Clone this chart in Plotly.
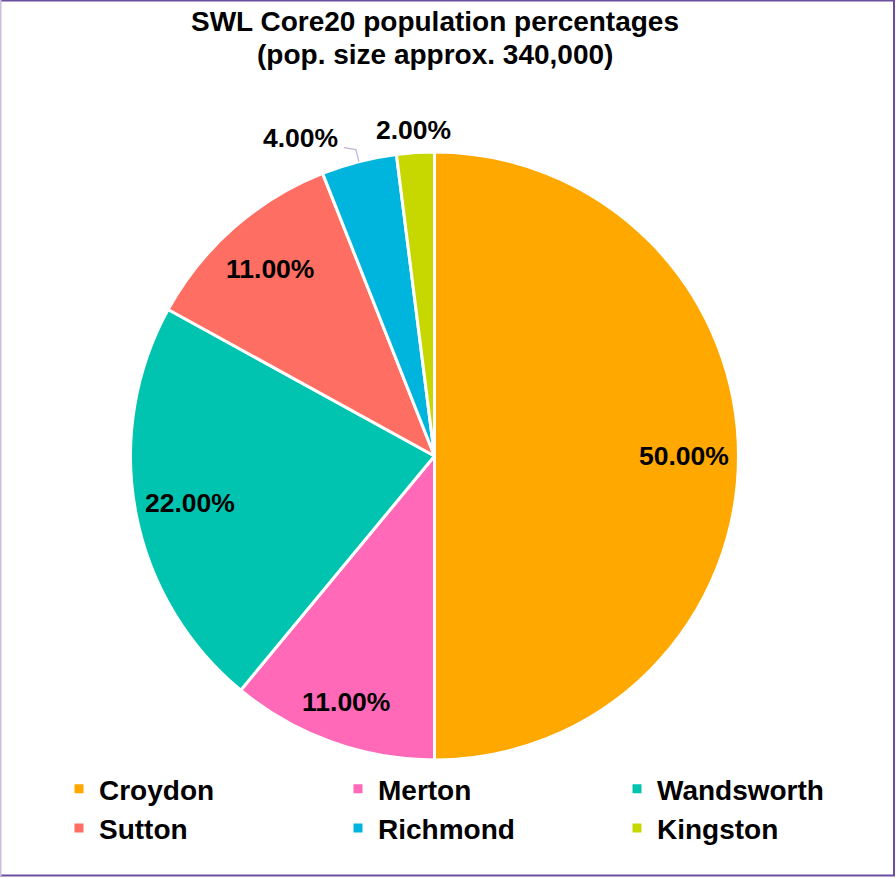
import math
import plotly.graph_objects as go

# South West London Core20 population share by borough
boroughs = ["Croydon", "Merton", "Wandsworth", "Sutton", "Richmond", "Kingston"]
shares = [50, 11, 22, 11, 4, 2]
colors = ["#FFA800", "#FF69B8", "#00C4B0", "#FF6E62", "#00B5DD", "#C6D800"]

W, H = 896, 879
CX, CY, R = 434.5, 456, 304  # pie centre and radius in pixels


def px(x):
    return x / W


def py(y):
    return 1 - y / H


fig = go.Figure(
    go.Pie(
        labels=boroughs,
        values=shares,
        sort=False,
        direction="clockwise",
        rotation=0,
        marker=dict(colors=colors, line=dict(color="white", width=3)),
        textinfo="none",
        hoverinfo="label+percent",
        domain=dict(x=[px(CX - R), px(CX + R)], y=[py(CY + R), py(CY - R)]),
    )
)

# Data labels: inside for big slices, outside for the two smallest
total = sum(shares)
start = 0.0
label_font = dict(family="Liberation Sans, Arial, sans-serif", size=26.5, color="black")
annotations = []
shapes = []
for name, v in zip(boroughs, shares):
    frac = v / total
    mid = (start + frac / 2) * 2 * math.pi  # clockwise from 12 o'clock
    start += frac
    text = f"<b>{v:.2f}%</b>"
    if v >= 10:
        rf = 0.86 if name == "Merton" else 0.82
        x = CX + rf * R * math.sin(mid)
        y = CY - rf * R * math.cos(mid)
    elif name == "Kingston":
        x = CX + 1.075 * R * math.sin(mid)
        y = CY - 1.075 * R * math.cos(mid)
    else:
        # shifted label with a leader line back to the slice edge
        ex = CX + R * math.sin(mid)
        ey = CY - R * math.cos(mid)
        x, y = ex - 58, ey - 24
        shapes.append(dict(
            type="path", xref="paper", yref="paper",
            path=f"M {px(ex)},{py(ey)} L {px(ex - 3)},{py(ey - 12)} L {px(ex - 15)},{py(ey - 14)}",
            line=dict(color="#C3B4DA", width=1.3),
        ))
    annotations.append(dict(
        text=text, x=px(x), y=py(y), xref="paper", yref="paper",
        showarrow=False, font=label_font, xanchor="center", yanchor="middle",
    ))

title_font = dict(family="Liberation Sans, Arial, sans-serif", size=28, color="black")
for line, yy in [("SWL Core20 population percentages", 22), ("(pop. size approx. 340,000)", 55)]:
    annotations.append(dict(
        text=f"<b>{line}</b>", x=px(435), y=py(yy), xref="paper", yref="paper",
        showarrow=False, font=title_font, xanchor="center", yanchor="middle",
    ))

# Chart frame
frame = "#6B4F9E"
shapes += [
    dict(type="line", xref="paper", yref="paper", x0=0, x1=px(895), y0=py(0.5), y1=py(0.5),
         line=dict(color=frame, width=2)),
    dict(type="line", xref="paper", yref="paper", x0=px(894), x1=px(894), y0=py(0), y1=py(876),
         line=dict(color=frame, width=2)),
    dict(type="line", xref="paper", yref="paper", x0=0, x1=px(895), y0=py(875.5), y1=py(875.5),
         line=dict(color=frame, width=2)),
    dict(type="line", xref="paper", yref="paper", x0=px(0.5), x1=px(0.5), y0=py(0), y1=py(876),
         line=dict(color="#CBBEDF", width=2)),
]

fig.update_layout(
    width=W,
    height=H,
    margin=dict(l=0, r=0, t=0, b=0),
    paper_bgcolor="white",
    plot_bgcolor="white",
    annotations=annotations,
    shapes=shapes,
    showlegend=True,
    legend=dict(
        orientation="h",
        x=px(60),
        y=py(764),
        xanchor="left",
        yanchor="top",
        entrywidth=234,
        entrywidthmode="pixels",
        itemwidth=30,
        traceorder="normal",
        font=dict(family="Liberation Sans, Arial, sans-serif", size=28, color="black", weight="bold"),
        bgcolor="rgba(0,0,0,0)",
    ),
)

fig.write_html("out.html")
